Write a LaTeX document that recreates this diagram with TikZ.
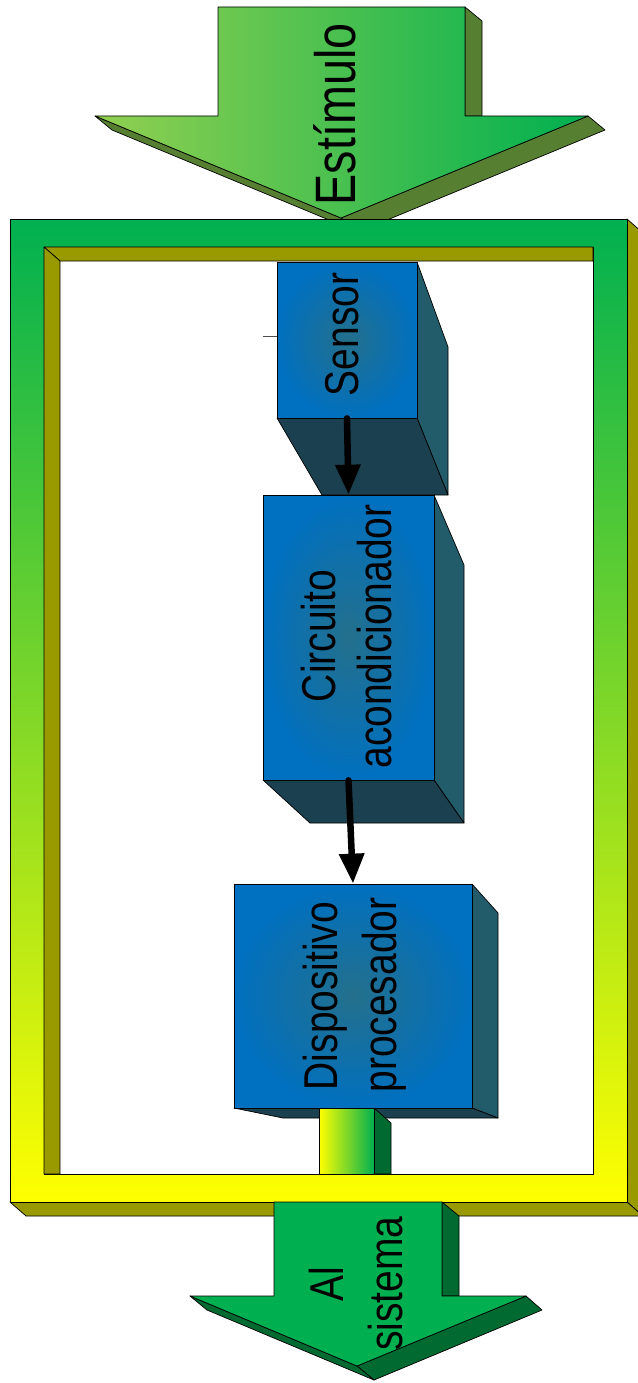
\documentclass[tikz,border=0pt]{standalone}
\usepackage{fontspec}
\usetikzlibrary{arrows.meta}
\newfontfamily\nsans[FakeStretch=0.82]{Liberation Sans}
\definecolor{fgreen}{RGB}{0,176,80}
\definecolor{lgreen}{RGB}{146,208,80}
\definecolor{fyellow}{RGB}{255,255,0}
\definecolor{olive}{RGB}{153,153,0}
\definecolor{arrsh}{RGB}{86,127,50}
\definecolor{dgreen}{RGB}{0,106,49}
\definecolor{bblue}{RGB}{0,112,192}
\definecolor{bteal}{RGB}{36,112,140}
\definecolor{rface}{RGB}{34,91,105}
\definecolor{bface}{RGB}{27,64,79}
\tikzset{
  edge/.style={draw=black, line width=0.7pt, line join=round},
  frontface/.style={edge, inner color=bteal, outer color=bblue, inner sep=0pt},
  sideface/.style={edge, fill=rface},
  botface/.style={edge, fill=bface},
  lbl/.style={rotate=90, anchor=base, inner sep=0pt, text=black, font=\nsans\fontsize{47.5}{59}\selectfont},
  conn/.style={line width=6.5pt, line cap=round, black, -{Triangle[width=24pt,length=30pt]}}
}
\begin{document}
\begin{tikzpicture}[x=1pt,y=-1pt]
\useasboundingbox (0,0) rectangle (637,1383);
% ---- top arrow (Estimulo)
\filldraw[edge, fill=arrsh] (465,7) -- (482,21) -- (482,116) -- (465,116) -- cycle;
\filldraw[edge, fill=arrsh] (588,116) -- (605,130) -- (358,232) -- (341,218) -- cycle;
\filldraw[edge, fill=arrsh] (95,116) -- (112,130) -- (358,232) -- (341,218) -- cycle;
\shadedraw[edge, left color=lgreen, right color=fgreen]
  (218,7) -- (465,7) -- (465,116) -- (588,116) -- (341,218) -- (95,116) -- (218,116) -- cycle;
% ---- frame
\filldraw[edge, fill=olive] (627,219) -- (643,233) -- (643,1216) -- (627,1202) -- cycle;
\filldraw[edge, fill=olive] (10,1202) -- (627,1202) -- (643,1216) -- (26,1216) -- cycle;
\shadedraw[edge, top color=fgreen, bottom color=fyellow] (10,219) rectangle (627,1202);
\filldraw[edge, fill=white] (44,247) rectangle (593,1174);
\filldraw[edge, fill=olive] (44,247) -- (593,247) -- (593,261) -- (60,261) -- cycle;
\filldraw[edge, fill=olive] (44,247) -- (60,261) -- (60,1174) -- (44,1174) -- cycle;
% ---- Sensor block
\filldraw[sideface] (417,262) -- (448,347) -- (448,495) -- (417,418) -- cycle;
\filldraw[botface] (277,418) -- (417,418) -- (448,495) -- (322,495) -- cycle;
\node[frontface, minimum width=140pt, minimum height=156pt] (sensor) at (347,340) {};
\coordinate (tick) at (263,336);
\draw[black!70, line width=0.6pt] (tick) -- (tick -| sensor.west);
% ---- Circuito block
\filldraw[sideface] (434,495) -- (464,565) -- (464,823) -- (434,780) -- cycle;
\filldraw[botface] (263,780) -- (434,780) -- (464,823) -- (310,823) -- cycle;
\node[frontface, minimum width=171pt, minimum height=285pt] (circ) at (348.5,637.5) {};
% ---- Dispositivo block
\filldraw[sideface] (472,884) -- (498,913) -- (498,1118) -- (472,1108) -- cycle;
\filldraw[botface] (234,1108) -- (472,1108) -- (498,1118) -- (283,1118) -- cycle;
\node[frontface, minimum width=238pt, minimum height=224pt] (disp) at (353,996) {};
% ---- small connecting bar
\filldraw[edge, fill=dgreen] (374,1108) -- (391,1123) -- (391,1174) -- (374,1174) -- cycle;
\shadedraw[edge, left color=fyellow, right color=fgreen] (319,1108) rectangle (374,1174);
% ---- connectors
\draw[conn] (sensor.south) -- (circ.north);
\draw[conn] (circ.south) -- (disp.north);
% ---- bottom arrow (Al sistema)
\filldraw[edge, fill=dgreen] (442,1202) -- (459,1216) -- (459,1296) -- (442,1296) -- cycle;
\filldraw[edge, fill=dgreen] (526,1296) -- (542,1310) -- (374,1380) -- (357,1366) -- cycle;
\filldraw[edge, fill=dgreen] (190,1296) -- (207,1310) -- (374,1380) -- (357,1366) -- cycle;
\filldraw[edge, fill=fgreen]
  (274,1202) -- (442,1202) -- (442,1296) -- (526,1296) -- (357,1366) -- (190,1296) -- (274,1296) -- cycle;
% ---- labels
\node[lbl, font=\nsans\fontsize{57}{60}\selectfont] (estimulo) at (355,114.5) {Estímulo};
\node[lbl] (tsensor) at (358,334.5) {Sensor};
\node[lbl] (tcirc1) at (335,636) {Circuito};
\node[lbl] (tcirc2) at (391,636.5) {acondicionador};
\node[lbl] (tdisp1) at (337,996) {Dispositivo};
\node[lbl] (tdisp2) at (396,995) {procesador};
\node[lbl] (tal1) at (343,1284) {Al};
\node[lbl] (tal2) at (402,1283.5) {sistema};
\end{tikzpicture}
\end{document}
